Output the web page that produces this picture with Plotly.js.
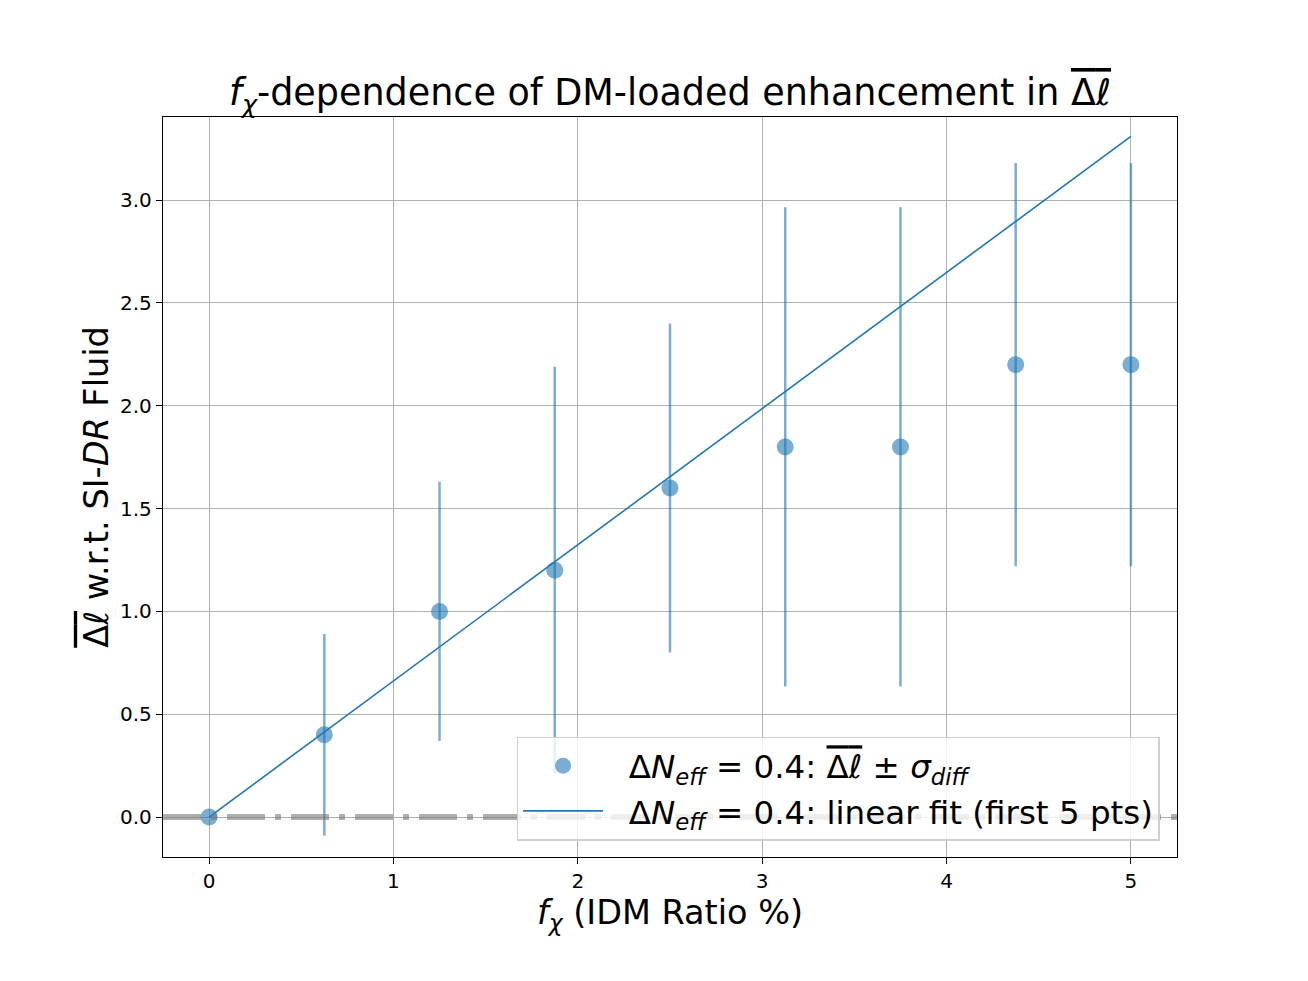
<!DOCTYPE html>
<html>
<head>
<meta charset="utf-8">
<script src="https://cdn.plot.ly/plotly-3.0.1.min.js"></script>
<style>body{margin:0;background:#fff;} #plot{width:1308px;height:981px;}</style>
</head>
<body>
<div id="plot"></div>
<script>
const fChi = [0, 0.625, 1.25, 1.875, 2.5, 3.125, 3.75, 4.375, 5];
const deltaEll = [0, 0.4, 1.0, 1.2, 1.6, 1.8, 1.8, 2.2, 2.2];
const sigmaDiff = [0, 0.49, 0.63, 0.99, 0.80, 1.165, 1.165, 0.98, 0.98];
const fitX = [0, 5];
const fitY = [0, 3.31];
const xTicks = [0, 1, 2, 3, 4, 5];
const yTicks = [0.0, 0.5, 1.0, 1.5, 2.0, 2.5, 3.0];
const yTickText = ['0.0', '0.5', '1.0', '1.5', '2.0', '2.5', '3.0'];

const OL = s => '<span style="text-decoration:overline">' + s + '</span>';
const DL = OL('Δ<i>ℓ</i>');
const font = 'DejaVu Sans, sans-serif';
const NB = '\u00a0\u00a0';

const traces = [
  {
    x: fChi, y: deltaEll, type: 'scatter', mode: 'markers',
    name: NB + 'Δ<i>N<sub>eff</sub></i> = 0.4: ' + DL + ' ± <i>σ<sub>diff</sub></i>',
    marker: {size: 17, color: 'rgba(31,119,180,0.6)'},
    error_y: {type: 'data', array: sigmaDiff, visible: true, color: 'rgba(31,119,180,0.6)', thickness: 2.5, width: 0}
  },
  {
    x: fitX, y: fitY, type: 'scatter', mode: 'lines',
    name: NB + 'Δ<i>N<sub>eff</sub></i> = 0.4: linear fit (first 5 pts)',
    line: {color: '#1f77b4', width: 1.6}
  }
];

const axisCommon = {
  showline: true, mirror: true, linecolor: '#000', linewidth: 1.3,
  ticks: 'outside', ticklen: 6, tickwidth: 1.3, tickcolor: '#000',
  showgrid: true, gridcolor: '#b0b0b0', gridwidth: 1.2, zeroline: false,
  tickfont: {family: font, size: 20, color: '#000'}
};

const layout = {
  width: 1308, height: 981,
  margin: {l: 163, r: 131, t: 117, b: 124},
  paper_bgcolor: '#fff', plot_bgcolor: '#fff',
  font: {family: font, color: '#000'},
  showlegend: true,
  title: {
    text: '<i>f<sub>χ</sub></i>-dependence of DM-loaded enhancement in ' + DL,
    font: {family: font, size: 36.5, color: '#000'},
    x: 0.5, xanchor: 'center', xref: 'paper',
    y: 0.906, yanchor: 'middle', yref: 'container'
  },
  xaxis: Object.assign({}, axisCommon, {
    range: [-0.25, 5.25], tickvals: xTicks,
    title: {text: '<i>f<sub>χ</sub></i> (IDM Ratio %)', font: {family: font, size: 33.5, color: '#000'}, standoff: 8}
  }),
  yaxis: Object.assign({}, axisCommon, {
    range: [-0.194, 3.404], tickvals: yTicks, ticktext: yTickText,
    title: {text: DL + ' w.r.t. SI-<i>DR</i> Fluid', font: {family: font, size: 33.5, color: '#000'}, standoff: 1}
  }),
  shapes: [{
    type: 'line', xref: 'paper', yref: 'y', x0: 0, x1: 1, y0: 0, y1: 0,
    line: {color: 'rgba(120,120,120,0.6)', width: 6, dash: '38px,10px,6px,10px'}
  }],
  legend: {
    x: 0.983, xanchor: 'right', y: 0.022, yanchor: 'bottom',
    bgcolor: 'rgba(255,255,255,0.8)', bordercolor: '#d0d0d0', borderwidth: 1.3,
    font: {family: font, size: 32.5, color: '#000'},
    itemwidth: 80
  }
};

Plotly.newPlot('plot', traces, layout, {displayModeBar: false});
</script>
</body>
</html>
